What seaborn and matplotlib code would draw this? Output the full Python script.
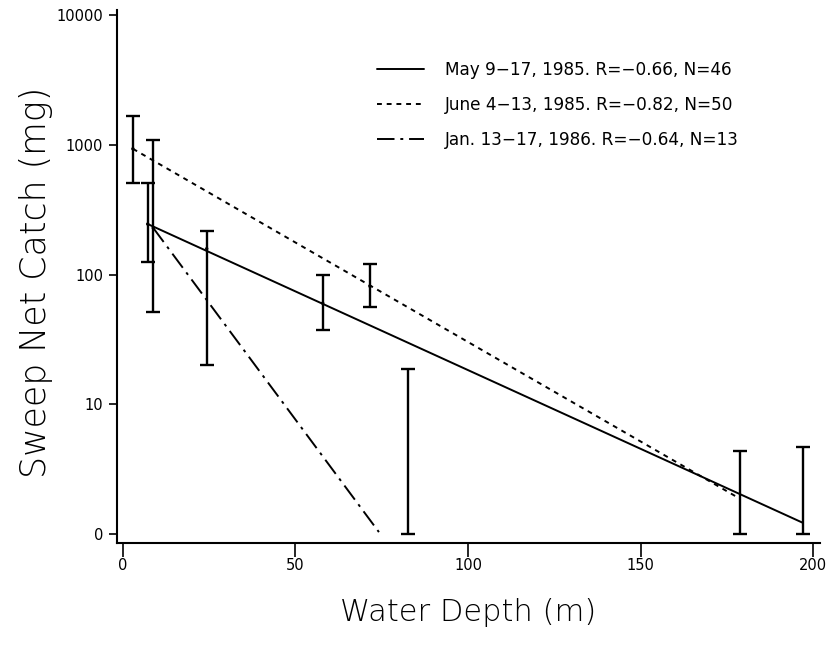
import numpy as np
import pandas as pd
import matplotlib
matplotlib.use("Agg")
import matplotlib.pyplot as plt
from matplotlib.lines import Line2D
import seaborn as sns

# ---- data (y values in log10 units of the sweep-net catch axis) ----
depth_bars = [2.9, 7.2, 8.8, 24.3, 57.9, 71.6, 82.5, 178.8, 197.0]
bar_mean = [2.97, 2.39, 2.36, 2.20, 1.78, 1.91, 0.0, 0.0, 0.0]
bar_upper = [3.22, 2.71, 3.04, 2.34, 2.00, 2.08, 1.27, 0.64, 0.67]
bar_lower = [2.71, 2.10, 1.71, 1.30, 1.57, 1.75, 0.0, 0.0, 0.0]
show_mean = [True, True, True, True, True, True, False, False, False]

series_names = ["May 9\u221217, 1985. R=\u22120.66, N=46",
                "June 4\u221213, 1985. R=\u22120.82, N=50",
                "Jan. 13\u221217, 1986. R=\u22120.64, N=13"]
fit_x_start = [7.2, 2.9, 8.8]
fit_x_end = [197.0, 178.3, 74.2]
fit_y_start = [2.39, 2.97, 2.36]
fit_y_end = [0.087, 0.28, 0.015]

ytick_pos = [0, 1, 2, 3, 4]
ytick_labels = ["0", "10", "100", "1000", "10000"]
xtick_pos = [0, 50, 100, 150, 200]

# ---- build frames ----
fit_df = pd.DataFrame({
    "series": np.repeat(series_names, 2),
    "depth": np.ravel(np.column_stack([fit_x_start, fit_x_end])),
    "catch": np.ravel(np.column_stack([fit_y_start, fit_y_end])),
})

sns.set_theme(style="ticks")
plt.rcParams["font.family"] = ["DejaVu Sans"]
plt.rcParams["text.color"] = "black"
plt.rcParams["axes.labelcolor"] = "black"

fig = plt.figure(figsize=(8.33, 6.48), dpi=100)
ax = fig.add_axes([117 / 833, 1 - 543 / 648, (820 - 117) / 833, (543 - 10) / 648])

dashes = {series_names[0]: "", series_names[1]: (2.5, 2.5), series_names[2]: (9, 3, 1.5, 3)}
sns.lineplot(data=fit_df, x="depth", y="catch", hue="series", style="series",
             dashes=dashes, palette=["black"] * 3, linewidth=1.4, legend=False,
             ax=ax, estimator=None, sort=False)

mean_arr = np.array(bar_mean)
ax.errorbar(depth_bars, mean_arr,
            yerr=[mean_arr - np.array(bar_lower), np.array(bar_upper) - mean_arr],
            fmt="none", ecolor="black", elinewidth=1.7, capsize=5, capthick=1.7)
sel = np.array(show_mean)
sns.scatterplot(x=np.array(depth_bars)[sel], y=mean_arr[sel], color="black", s=6,
                edgecolor="none", ax=ax, legend=False)

ax.set_xlim(-1.7, 202)
ax.set_ylim(-0.069, 4.04)
ax.set_xticks(xtick_pos)
ax.set_xticklabels([str(v) for v in xtick_pos])
ax.set_yticks(ytick_pos)
ax.set_yticklabels(ytick_labels)
ax.tick_params(axis="both", colors="black", labelsize=10.5, width=1.2)
ax.tick_params(axis="y", length=6, pad=4)
ax.tick_params(axis="x", length=10, pad=0.5)
for s in ["top", "right"]:
    ax.spines[s].set_visible(False)
for s in ["left", "bottom"]:
    ax.spines[s].set_linewidth(1.5)
    ax.spines[s].set_color("black")

ax.set_xlabel("Water Depth (m)", fontsize=22, fontweight="light", color="black")
ax.set_ylabel("Sweep Net Catch (mg)", fontsize=25, fontweight="light", color="black")
ax.xaxis.set_label_coords(0.5, (543 - 598) / 533)
ax.yaxis.set_label_coords((53 - 117) / 703, 0.49)

handles = [Line2D([], [], color="black", lw=1.4, linestyle=(0, dashes[n]) if dashes[n] else "-")
           for n in series_names]
leg = ax.legend(handles, series_names, loc="upper left",
                bbox_to_anchor=(377 / 833, 1 - 61 / 648), bbox_transform=fig.transFigure,
                frameon=False, fontsize=12.2, handlelength=2.8, handletextpad=1.2,
                labelspacing=1.0, borderpad=0, borderaxespad=0)

fig.savefig("out.png", dpi=100)
